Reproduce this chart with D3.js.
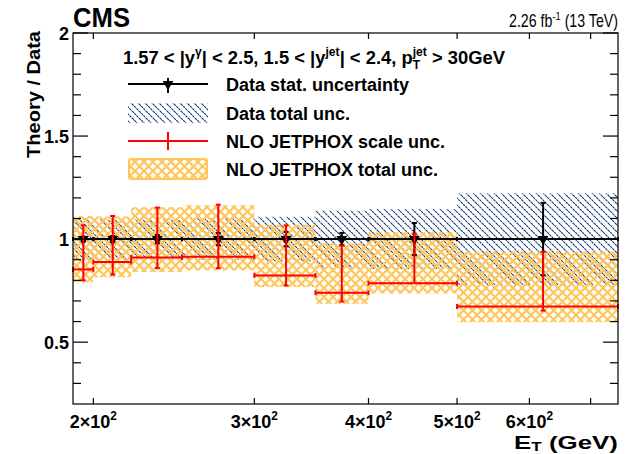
<!DOCTYPE html>
<html><head><meta charset="utf-8">
<script src="https://cdn.jsdelivr.net/npm/d3@7"></script>
<style>
body{margin:0;background:#fff}
svg{display:block}
text{font-family:"Liberation Sans",Arial,Helvetica,sans-serif;white-space:pre}
</style>
</head><body><svg id="c" width="632" height="454"></svg>
<script>
// ---------------- data ----------------
const binEdges = [190, 200, 220, 250, 300, 350, 400, 500, 750];
const pointX = [195, 210, 235, 274, 325, 374, 449, 621];
const dataRatio = [1, 1, 1, 1, 1, 1, 1, 1];
const dataStatUnc = [0.012, 0.015, 0.02, 0.03, 0.035, 0.03, 0.078, 0.176];
const dataTotalUnc = [0.10, 0.095, 0.095, 0.10, 0.108, 0.138, 0.145, 0.222];
const nloRatio = [0.853, 0.889, 0.911, 0.914, 0.824, 0.740, 0.786, 0.673];
const nloScaleLow = [0.800, 0.828, 0.859, 0.859, 0.775, 0.697, 0.786, 0.653];
const nloScaleHigh = [1.067, 1.112, 1.153, 1.167, 1.067, 0.969, 1.026, 0.938];
const nloTotalLow = [0.790, 0.815, 0.840, 0.848, 0.767, 0.686, 0.736, 0.597];
const nloTotalHigh = [1.113, 1.110, 1.155, 1.164, 1.070, 0.980, 1.033, 0.940];
const xTickValues = [200, 300, 400, 500, 600, 700];
const xTickMantissa = ["2", "3", "4", "5", "6", ""];
const yMajorTicks = [0.5, 1, 1.5, 2];
const yMajorLabels = ["0.5", "1", "1.5", "2"];
const legendLabels = ["Data stat. uncertainty", "Data total unc.", "NLO JETPHOX scale unc.", "NLO JETPHOX total unc."];

// ---------------- setup ----------------
const L = 73, R = 618, T = 33, B = 404;
const svg = d3.select("#c");
const x = d3.scaleLog().domain([190, 750]).range([L, R]);
const y = d3.scaleLinear().domain([0.2, 2]).range([B, T]);

const BLUE = "#15377a", ORANGE = "#ffc65c", RED = "#ff0000";

const defs = svg.append("defs");
const HP = 7;
const hp = defs.append("pattern").attr("id", "hatch").attr("patternUnits", "userSpaceOnUse")
  .attr("width", HP).attr("height", HP);
hp.append("path").attr("d", `M-1,-1 L${HP+1},${HP+1} M-1,${HP-1} L1,${HP+1} M${HP-1},-1 L${HP+1},1`)
  .attr("stroke", BLUE).attr("stroke-width", 1.1).attr("stroke-dasharray", "2.5,0.6").attr("fill", "none");

const P = 9;
const op = defs.append("pattern").attr("id", "mesh").attr("patternUnits", "userSpaceOnUse")
  .attr("width", P).attr("height", P);
op.append("path").attr("d", `M-2,-2 L${P+2},${P+2} M${P+2},-2 L-2,${P+2}`)
  .attr("stroke", ORANGE).attr("stroke-width", 2.2).attr("fill", "none");

// rich text helper (optional fit width)
function rich(g, x0, y0, segs, size, weight, anchor, fitW, subOff) {
  const grp = g.append("g");
  let cx = 0, prevStart = 0;
  segs.forEach(s => {
    const small = s.sup || s.sub;
    const fs = small ? size * 0.66 : size;
    const dy = s.sup ? -size * 0.42 : (s.sub ? size * (subOff || 0.28) : 0);
    const sx = s.stack ? prevStart : cx;
    const t = grp.append("text").attr("x", sx).attr("y", dy)
      .attr("font-size", fs).attr("font-weight", weight).attr("fill", "#000").text(s.t);
    const w = t.node().getComputedTextLength();
    if (s.stack) cx = Math.max(cx, sx + w);
    else { prevStart = sx; cx = sx + w; }
  });
  const sc = fitW ? fitW / cx : 1;
  const tw = cx * sc;
  const ox = anchor === "end" ? x0 - tw : anchor === "middle" ? x0 - tw / 2 : x0;
  grp.attr("transform", `translate(${ox},${y0}) scale(${sc},1)`);
  return grp;
}

const bins = d3.range(pointX.length).map(i => ({
  x0: binEdges[i], x1: binEdges[i + 1], px: pointX[i],
  d: dataRatio[i], ds: dataStatUnc[i], dt: dataTotalUnc[i],
  n: nloRatio[i], sl: nloScaleLow[i], sh: nloScaleHigh[i], tl: nloTotalLow[i], th: nloTotalHigh[i]
}));

const plot = svg.append("g");
plot.selectAll("rect.dt").data(bins).join("rect").attr("class", "dt")
  .attr("x", d => x(d.x0)).attr("width", d => x(d.x1) - x(d.x0))
  .attr("y", d => y(d.d + d.dt)).attr("height", d => y(d.d - d.dt) - y(d.d + d.dt))
  .attr("fill", "url(#hatch)");
plot.selectAll("rect.nt").data(bins).join("rect").attr("class", "nt")
  .attr("x", d => x(d.x0)).attr("width", d => x(d.x1) - x(d.x0))
  .attr("y", d => y(d.th)).attr("height", d => y(d.tl) - y(d.th))
  .attr("fill", "url(#mesh)");

const dl = plot.append("g").attr("stroke", "#000").attr("stroke-width", 2);
bins.forEach(d => {
  dl.append("line").attr("x1", x(d.x0)).attr("x2", x(d.x1)).attr("y1", y(d.d)).attr("y2", y(d.d));
  dl.append("line").attr("x1", x(d.x0)).attr("x2", x(d.x0)).attr("y1", y(d.d) - 2).attr("y2", y(d.d) + 2);
  dl.append("line").attr("x1", x(d.x1)).attr("x2", x(d.x1)).attr("y1", y(d.d) - 2).attr("y2", y(d.d) + 2);
  dl.append("line").attr("x1", x(d.px)).attr("x2", x(d.px)).attr("y1", y(d.d + d.ds)).attr("y2", y(d.d - d.ds));
  dl.append("line").attr("x1", x(d.px) - 2.5).attr("x2", x(d.px) + 2.5).attr("y1", y(d.d + d.ds)).attr("y2", y(d.d + d.ds));
  dl.append("line").attr("x1", x(d.px) - 2.5).attr("x2", x(d.px) + 2.5).attr("y1", y(d.d - d.ds)).attr("y2", y(d.d - d.ds));
});
const tri = d3.symbol().type(d3.symbolTriangle).size(50);
plot.selectAll("path.mk").data(bins).join("path").attr("class", "mk")
  .attr("d", tri).attr("fill", "#000")
  .attr("transform", d => `translate(${x(d.px)},${y(d.d)}) rotate(180)`);

const rl = plot.append("g").attr("stroke", RED).attr("stroke-width", 2);
bins.forEach(d => {
  rl.append("line").attr("x1", x(d.x0)).attr("x2", x(d.x1)).attr("y1", y(d.n)).attr("y2", y(d.n));
  rl.append("line").attr("x1", x(d.x0)).attr("x2", x(d.x0)).attr("y1", y(d.n) - 2.5).attr("y2", y(d.n) + 2.5);
  rl.append("line").attr("x1", x(d.x1)).attr("x2", x(d.x1)).attr("y1", y(d.n) - 2.5).attr("y2", y(d.n) + 2.5);
  rl.append("line").attr("x1", x(d.px)).attr("x2", x(d.px)).attr("y1", y(d.sh)).attr("y2", y(d.sl));
  rl.append("line").attr("x1", x(d.px) - 2.5).attr("x2", x(d.px) + 2.5).attr("y1", y(d.sh)).attr("y2", y(d.sh));
  if (d.sl < d.n) rl.append("line").attr("x1", x(d.px) - 2.5).attr("x2", x(d.px) + 2.5).attr("y1", y(d.sl)).attr("y2", y(d.sl));
});

// frame & ticks
const ax = svg.append("g").attr("stroke", "#000").attr("stroke-width", 1.2).attr("fill", "none");
ax.append("rect").attr("x", L).attr("y", T).attr("width", R - L).attr("height", B - T);
xTickValues.forEach(v => {
  ax.append("line").attr("x1", x(v)).attr("x2", x(v)).attr("y1", B).attr("y2", B - 6);
  ax.append("line").attr("x1", x(v)).attr("x2", x(v)).attr("y1", T).attr("y2", T + 6);
});
d3.range(3, 21).map(k => k / 10).forEach(v => {
  const major = yMajorTicks.some(m => Math.abs(m - v) < 1e-6);
  const len = major ? 15 : 8;
  ax.append("line").attr("x1", L).attr("x2", L + len).attr("y1", y(v)).attr("y2", y(v));
  ax.append("line").attr("x1", R).attr("x2", R - len).attr("y1", y(v)).attr("y2", y(v));
});

// tick labels
const lab = svg.append("g");
yMajorTicks.forEach((v, i) => {
  lab.append("text").attr("x", 69).attr("y", y(v) + 6.5).attr("text-anchor", "end")
    .attr("font-size", 18).attr("font-weight", "bold").text(yMajorLabels[i]);
});
xTickValues.forEach((v, i) => {
  if (!xTickMantissa[i]) return;
  rich(lab, x(v), 428, [{t: xTickMantissa[i] + "\u00d710"}, {t: "2", sup: true}], 18, "bold", "middle");
});

// axis titles
svg.append("text").attr("transform", `translate(40,${T - 2}) rotate(-90)`).attr("text-anchor", "end")
  .attr("font-size", 19).attr("font-weight", "bold").attr("textLength", 127).attr("lengthAdjust", "spacingAndGlyphs")
  .text("Theory / Data");
rich(svg, R, 449, [{t: "E"}, {t: "T", sub: true}, {t: " (GeV)"}], 18.5, "bold", "end", 104, 0.12);

// CMS & lumi
svg.append("text").attr("x", 73).attr("y", 27).attr("font-size", 27).attr("font-weight", "bold")
  .attr("textLength", 57).attr("lengthAdjust", "spacingAndGlyphs").text("CMS");
rich(svg, R, 27, [{t: "2.26 fb"}, {t: "-1", sup: true}, {t: " (13 TeV)"}], 17.5, "normal", "end", 109);

// legend header
rich(svg, 123, 64, [
  {t: "1.57 < |y"}, {t: "\u03b3", sup: true}, {t: "| < 2.5, 1.5 < |y"}, {t: "jet", sup: true},
  {t: "| < 2.4, p"}, {t: "T", sub: true}, {t: "jet", sup: true, stack: true}, {t: " > 30GeV"}
], 18, "bold", "start", 382);

// legend entries
const lg = svg.append("g");
const rowsY = [84, 113, 141, 169];
lg.append("line").attr("x1", 128).attr("x2", 208).attr("y1", rowsY[0]).attr("y2", rowsY[0]).attr("stroke", "#000").attr("stroke-width", 2);
lg.append("line").attr("x1", 168).attr("x2", 168).attr("y1", rowsY[0] - 6).attr("y2", rowsY[0] + 9).attr("stroke", "#000").attr("stroke-width", 2);
lg.append("path").attr("d", tri).attr("transform", `translate(168,${rowsY[0]}) rotate(180)`).attr("fill", "#000");
lg.append("rect").attr("x", 128).attr("y", rowsY[1] - 10).attr("width", 80).attr("height", 20).attr("fill", "url(#hatch)");
lg.append("line").attr("x1", 128).attr("x2", 208).attr("y1", rowsY[2]).attr("y2", rowsY[2]).attr("stroke", RED).attr("stroke-width", 2);
lg.append("line").attr("x1", 168).attr("x2", 168).attr("y1", rowsY[2] - 9).attr("y2", rowsY[2] + 9).attr("stroke", RED).attr("stroke-width", 2);
lg.append("rect").attr("x", 129).attr("y", rowsY[3] - 10).attr("width", 78).attr("height", 20).attr("rx", 2)
  .attr("fill", "url(#mesh)").attr("stroke", ORANGE).attr("stroke-width", 2);
legendLabels.forEach((t, i) => {
  lg.append("text").attr("x", 226).attr("y", rowsY[i] + 6.5).attr("font-size", 18).attr("font-weight", "bold").text(t);
});
</script>
</body></html>
